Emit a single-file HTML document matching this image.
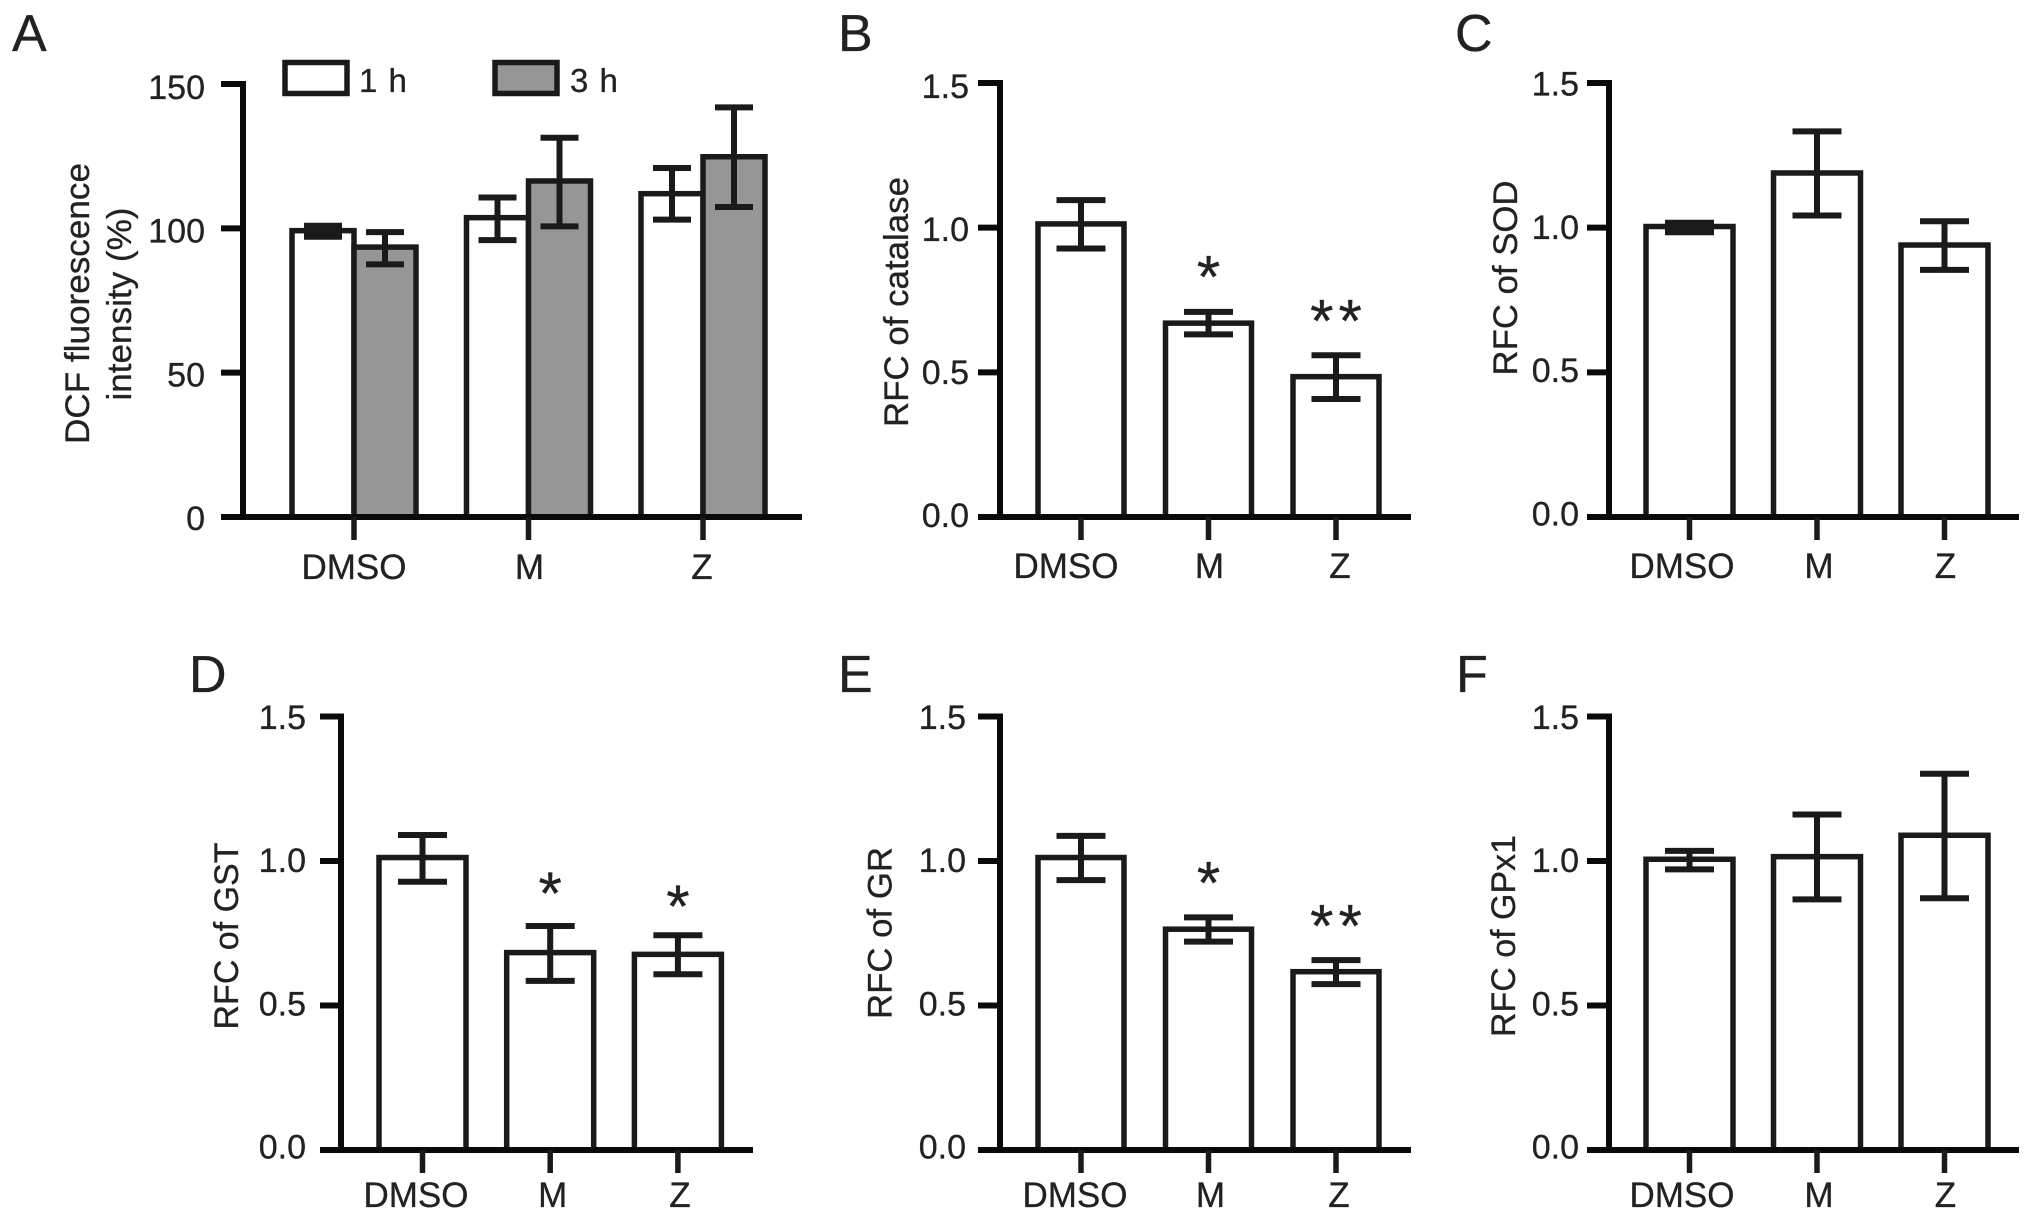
<!DOCTYPE html>
<html lang="en">
<head>
<meta charset="utf-8">
<title>DCF fluorescence and antioxidant enzyme RFC panels</title>
<style>
  html, body { margin: 0; padding: 0; background: #ffffff; }
  svg { display: block; }
  text { font-family: "Liberation Sans", Arial, sans-serif; fill: #222222; stroke: #222222; stroke-width: 0.3px; }
</style>
</head>
<body>
<svg id="figure" xmlns="http://www.w3.org/2000/svg" width="2032" height="1220" viewBox="0 0 2032 1220"></svg>
<script>
// ---- Data ----
const categories = ['DMSO', 'M', 'Z'];
const percentTicks = [0, 50, 100, 150];
const percentTickLabels = ['0', '50', '100', '150'];
const rfcTicks = [0, 0.5, 1.0, 1.5];
const rfcTickLabels = ['0.0', '0.5', '1.0', '1.5'];

const dcf1hMeans = [99.2, 103.7, 112.0];
const dcf1hUpper = [100.9, 110.7, 120.9];
const dcf1hLower = [97.1, 95.9, 103.0];
const dcf3hMeans = [93.5, 116.4, 124.8];
const dcf3hUpper = [98.7, 131.4, 141.9];
const dcf3hLower = [87.5, 100.7, 107.4];

const catalaseMeans = [1.013, 0.670, 0.485];
const catalaseUpper = [1.095, 0.709, 0.559];
const catalaseLower = [0.928, 0.631, 0.408];
const catalaseStars = ['', '*', '**'];
const catalaseStarLevels = [0, 0.858, 0.706];

const sodMeans = [1.004, 1.189, 0.940];
const sodUpper = [1.017, 1.333, 1.022];
const sodLower = [0.984, 1.042, 0.854];

const gstMeans = [1.012, 0.683, 0.677];
const gstUpper = [1.090, 0.775, 0.743];
const gstLower = [0.928, 0.585, 0.608];
const gstStars = ['', '*', '*'];
const gstStarLevels = [0, 0.916, 0.872];

const grMeans = [1.012, 0.764, 0.617];
const grUpper = [1.087, 0.805, 0.657];
const grLower = [0.934, 0.721, 0.574];
const grStars = ['', '*', '**'];
const grStarLevels = [0, 0.952, 0.803];

const gpxMeans = [1.006, 1.015, 1.089];
const gpxUpper = [1.035, 1.161, 1.302];
const gpxLower = [0.971, 0.867, 0.871];

// ---- Layout ----
const INK = '#1a1a1a';
const GREY = '#969696';
const svg = document.getElementById('figure');

function node(tag, attrs, parent) {
  const el = document.createElementNS('http://www.w3.org/2000/svg', tag);
  for (const k in attrs) el.setAttribute(k, attrs[k]);
  parent.appendChild(el);
  return el;
}

const panels = [
  { id: 'a', letter: 'A', letterX: 12, letterY: 51,
    axisX: 243, axisLeft: 221, axisRight: 802, y0: 517, yTop: 84, yMax: 150,
    ticks: percentTicks, tickLabels: percentTickLabels, labelRight: 205, dyTop: 15, dyBottom: 13,
    firstCx: 354, step: 174.5, barW: 62, capW: 38, xLabelShift: [0, 1, -1], xLabelBase: 579,
    titles: [{ t: 'DCF fluorescence', x: 89, cy: 303.5, len: 281 }, { t: 'intensity (%)', x: 131, cy: 304, len: 193 }],
    series: [
      { name: '1h', fill: '#ffffff', means: dcf1hMeans, upper: dcf1hUpper, lower: dcf1hLower, off: -31 },
      { name: '3h', fill: GREY, means: dcf3hMeans, upper: dcf3hUpper, lower: dcf3hLower, off: 31 }
    ] },
  { id: 'b', letter: 'B', letterX: 838, letterY: 51,
    axisX: 1000, axisLeft: 978, axisRight: 1411, y0: 517, yTop: 83, yMax: 1.5,
    ticks: rfcTicks, tickLabels: rfcTickLabels, labelRight: 969, dyTop: 15, dyBottom: 10,
    firstCx: 1081, step: 127.5, barW: 86, capW: 49, xLabelShift: [-15, 1, 4], xLabelBase: 578,
    titles: [{ t: 'RFC of catalase', x: 908, cy: 302, len: 250 }],
    stars: catalaseStars, starLevels: catalaseStarLevels,
    series: [{ name: 'catalase', fill: '#ffffff', means: catalaseMeans, upper: catalaseUpper, lower: catalaseLower, off: 0 }] },
  { id: 'c', letter: 'C', letterX: 1455, letterY: 51,
    axisX: 1609, axisLeft: 1587, axisRight: 2019, y0: 517, yTop: 83, yMax: 1.5,
    ticks: rfcTicks, tickLabels: rfcTickLabels, labelRight: 1579, dyTop: 12.5, dyBottom: 8.5,
    firstCx: 1689.5, step: 127.5, barW: 87, capW: 49, xLabelShift: [-7.5, 2, 1], xLabelBase: 578,
    titles: [{ t: 'RFC of SOD', x: 1517, cy: 278, len: 195 }],
    series: [{ name: 'sod', fill: '#ffffff', means: sodMeans, upper: sodUpper, lower: sodLower, off: 0 }] },
  { id: 'd', letter: 'D', letterX: 189, letterY: 692,
    axisX: 341, axisLeft: 320, axisRight: 753, y0: 1150, yTop: 716.5, yMax: 1.5,
    ticks: rfcTicks, tickLabels: rfcTickLabels, labelRight: 306, dyTop: 12.5, dyBottom: 8.6,
    firstCx: 422.5, step: 127.7, barW: 87, capW: 49, xLabelShift: [-6.5, 2.5, 2], xLabelBase: 1207,
    titles: [{ t: 'RFC of GST', x: 238, cy: 936, len: 187 }],
    stars: gstStars, starLevels: gstStarLevels,
    series: [{ name: 'gst', fill: '#ffffff', means: gstMeans, upper: gstUpper, lower: gstLower, off: 0 }] },
  { id: 'e', letter: 'E', letterX: 838, letterY: 692,
    axisX: 1000, axisLeft: 978, axisRight: 1411, y0: 1150, yTop: 716.5, yMax: 1.5,
    ticks: rfcTicks, tickLabels: rfcTickLabels, labelRight: 966, dyTop: 12.5, dyBottom: 8.6,
    firstCx: 1081, step: 127.5, barW: 86, capW: 49, xLabelShift: [-6, 2, 3], xLabelBase: 1207,
    titles: [{ t: 'RFC of GR', x: 891.5, cy: 933, len: 172 }],
    stars: grStars, starLevels: grStarLevels,
    series: [{ name: 'gr', fill: '#ffffff', means: grMeans, upper: grUpper, lower: grLower, off: 0 }] },
  { id: 'f', letter: 'F', letterX: 1456, letterY: 692,
    axisX: 1609, axisLeft: 1587, axisRight: 2019, y0: 1150, yTop: 716.5, yMax: 1.5,
    ticks: rfcTicks, tickLabels: rfcTickLabels, labelRight: 1579, dyTop: 12.5, dyBottom: 8.6,
    firstCx: 1689.5, step: 127.5, barW: 87, capW: 49, xLabelShift: [-7.5, 2, 1], xLabelBase: 1207,
    titles: [{ t: 'RFC of GPx1', x: 1515, cy: 936, len: 202 }],
    series: [{ name: 'gpx1', fill: '#ffffff', means: gpxMeans, upper: gpxUpper, lower: gpxLower, off: 0 }] }
];

function drawPanel(p) {
  const g = node('g', {}, svg);
  
  

  const yScale = v => p.y0 - (v / p.yMax) * (p.y0 - p.yTop);
  const xScale = i => p.firstCx + i * p.step;

  const letter = node('text', { x: p.letterX, y: p.letterY, 'font-size': 52 }, g);
  letter.textContent = p.letter;
  
  

  p.titles.forEach((title, ti) => {
    const tEl = node('text', {
      transform: 'translate(' + title.x + ',' + title.cy + ') rotate(-90)',
      'text-anchor': 'middle', 'font-size': 34,
      textLength: title.len, lengthAdjust: 'spacingAndGlyphs'
    }, g);
    tEl.textContent = title.t;
    
    
  });

  // bars + error bars
  p.series.forEach(s => {
    categories.forEach((cat, i) => {
      const cx = xScale(i) + s.off;
      const top = yScale(s.means[i]);
      const bar = node('rect', {
        x: cx - p.barW / 2, y: top, width: p.barW, height: p.y0 - top,
        fill: s.fill, stroke: INK, 'stroke-width': 5.5
      }, g);
      
      
    });
  });
  p.series.forEach(s => {
    categories.forEach((cat, i) => {
      const cx = xScale(i) + s.off;
      const hi = yScale(s.upper[i]);
      const lo = yScale(s.lower[i]);
      const eb = node('path', {
        d: 'M' + cx + ' ' + hi + 'V' + lo +
           'M' + (cx - p.capW / 2) + ' ' + hi + 'H' + (cx + p.capW / 2) +
           'M' + (cx - p.capW / 2) + ' ' + lo + 'H' + (cx + p.capW / 2),
        fill: 'none', stroke: INK, 'stroke-width': 6
      }, g);
      
      
      // very small errors read as a solid block in the original
      if (lo - hi < 13) {
        const solid = node('rect', {
          x: cx - p.capW / 2, y: hi, width: p.capW, height: lo - hi, fill: INK
        }, g);
        
        
      }
    });
  });

  // significance stars
  if (p.stars) {
    p.stars.forEach((star, i) => {
      if (!star) return;
      const size = 60;
      const st = node('text', {
        x: xScale(i) + (star.length > 1 ? 2.5 : 0),
        y: yScale(p.starLevels[i]) + size * 0.48,
        'text-anchor': 'middle', 'font-size': size,
        'letter-spacing': star.length > 1 ? 5 : 0
      }, g);
      st.textContent = star;
      
      
    });
  }

  // y axis
  const yAxis = node('line', { x1: p.axisX, x2: p.axisX, y1: p.yTop - 3, y2: p.y0, stroke: '#0a0a0a', 'stroke-width': 6 }, g);
  
  

  p.ticks.forEach((v, i) => {
    const y = yScale(v);
    const tick = node('line', { x1: p.axisLeft, x2: p.axisX, y1: y, y2: y, stroke: '#0a0a0a', 'stroke-width': 6 }, g);
    
    
    const frac = v / p.yMax;
    const lab = node('text', {
      x: p.labelRight, y: y + p.dyBottom + (p.dyTop - p.dyBottom) * frac,
      'text-anchor': 'end', 'font-size': 34
    }, g);
    lab.textContent = p.tickLabels[i];
    
    
  });

  // x axis
  const xAxis = node('line', { x1: p.axisLeft, x2: p.axisRight, y1: p.y0, y2: p.y0, stroke: '#0a0a0a', 'stroke-width': 6 }, g);
  
  

  categories.forEach((cat, i) => {
    const x = xScale(i);
    const tick = node('line', { x1: x, x2: x, y1: p.y0, y2: p.y0 + 23, stroke: INK, 'stroke-width': 5.5 }, g);
    
    
    const lab = node('text', {
      x: x + p.xLabelShift[i], y: p.xLabelBase, 'text-anchor': 'middle', 'font-size': 35
    }, g);
    lab.textContent = cat;
    
    
  });
}

panels.forEach(drawPanel);

// legend for panel A
const legend = node('g', {}, svg);



const legendSwatch1 = node('rect', { x: 285, y: 62.5, width: 62, height: 31, fill: '#ffffff', stroke: INK, 'stroke-width': 5.5 }, legend);



const legendText1 = node('text', { x: 359, y: 92, 'font-size': 33, 'letter-spacing': 1 }, legend);
legendText1.textContent = '1 h';



const legendSwatch3 = node('rect', { x: 495, y: 62.5, width: 62, height: 31, fill: GREY, stroke: INK, 'stroke-width': 5.5 }, legend);



const legendText3 = node('text', { x: 570, y: 92, 'font-size': 33, 'letter-spacing': 1 }, legend);
legendText3.textContent = '3 h';


</script>
</body>
</html>
